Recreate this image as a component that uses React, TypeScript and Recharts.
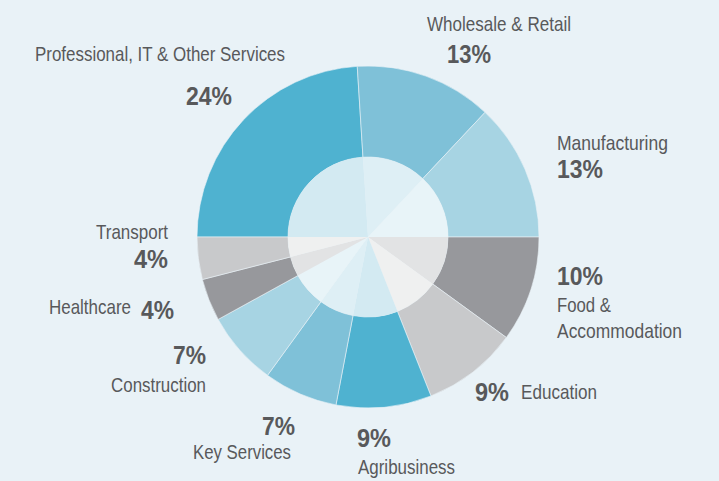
import React from 'react';
import { PieChart, Pie, Cell } from 'recharts';

const sectors = [
  'Professional, IT & Other Services',
  'Wholesale & Retail',
  'Manufacturing',
  'Food & Accommodation',
  'Education',
  'Agribusiness',
  'Key Services',
  'Construction',
  'Healthcare',
  'Transport',
];
const shares = [24, 13, 13, 10, 9, 9, 7, 7, 4, 4];

const outerColors = [
  '#4FB2D0', '#7FC1D8', '#A7D4E3', '#97989C', '#C8C9CB',
  '#4FB2D0', '#7FC1D8', '#A7D4E3', '#97989C', '#C8C9CB',
];
const innerColors = [
  '#D3EAF2', '#DEEFF5', '#E8F4F8', '#E2E3E4', '#EFF0F0',
  '#D3EAF2', '#DEEFF5', '#E8F4F8', '#E2E3E4', '#EFF0F0',
];

const data = sectors.map((name, i) => ({ name, value: shares[i] }));

const FONT = "'Liberation Sans', Arial, sans-serif";
const TEXT = '#58595B';

// x/y: left edge + baseline; w: rendered width (condensed face)
type Line = { t: string; x: number; y: number; w: number; bold?: boolean };

// label placement per slice; "%" marks where the share goes
const labelLayout: Record<string, Line[]> = {
  'Professional, IT & Other Services': [
    { t: 'Professional, IT & Other Services', x: 35, y: 61, w: 250 },
    { t: '%', x: 186, y: 105, w: 46, bold: true },
  ],
  'Wholesale & Retail': [
    { t: 'Wholesale & Retail', x: 427, y: 31, w: 144 },
    { t: '%', x: 447, y: 63, w: 44, bold: true },
  ],
  Manufacturing: [
    { t: 'Manufacturing', x: 557, y: 150, w: 111 },
    { t: '%', x: 557, y: 178, w: 46, bold: true },
  ],
  'Food & Accommodation': [
    { t: '%', x: 557, y: 285, w: 46, bold: true },
    { t: 'Food &', x: 557, y: 312, w: 54 },
    { t: 'Accommodation', x: 557, y: 338, w: 125 },
  ],
  Education: [
    { t: '%', x: 475, y: 401, w: 34, bold: true },
    { t: 'Education', x: 521, y: 399, w: 76 },
  ],
  Agribusiness: [
    { t: '%', x: 357, y: 447, w: 34, bold: true },
    { t: 'Agribusiness', x: 358, y: 474, w: 97 },
  ],
  'Key Services': [
    { t: '%', x: 262, y: 435, w: 33, bold: true },
    { t: 'Key Services', x: 193, y: 459, w: 98 },
  ],
  Construction: [
    { t: '%', x: 173, y: 364, w: 33, bold: true },
    { t: 'Construction', x: 111, y: 392, w: 95 },
  ],
  Healthcare: [
    { t: 'Healthcare', x: 49, y: 314, w: 82 },
    { t: '%', x: 141, y: 319, w: 33, bold: true },
  ],
  Transport: [
    { t: 'Transport', x: 96, y: 239, w: 72 },
    { t: '%', x: 134, y: 268, w: 34, bold: true },
  ],
};

function renderLabel(props: any) {
  const lines = labelLayout[props.name] || [];
  return (
    <g key={props.name}>
      {lines.map((l, i) => (
        <text
          key={i}
          x={l.x}
          y={l.y}
          textAnchor="start"
          textLength={l.w}
          lengthAdjust="spacingAndGlyphs"
          fill={TEXT}
          fontFamily={FONT}
          fontSize={l.bold ? 26 : 21}
          fontWeight={l.bold ? 700 : 400}
        >
          {l.t === '%' ? `${props.value}%` : l.t}
        </text>
      ))}
    </g>
  );
}

export default function App() {
  return (
    <div style={{ position: 'absolute', left: 0, top: 0, width: 719, height: 481, background: '#E9F2F7' }}>
      <PieChart width={719} height={481} margin={{ top: 0, right: 0, bottom: 0, left: 0 }}>
        <Pie
          data={data}
          dataKey="value"
          nameKey="name"
          cx={368}
          cy={237}
          innerRadius={80}
          outerRadius={171}
          startAngle={180}
          endAngle={-180}
          stroke="#E9F2F7"
          strokeWidth={0.6}
          label={renderLabel}
          labelLine={false}
          isAnimationActive={false}
        >
          {data.map((d, i) => (
            <Cell key={d.name} fill={outerColors[i]} />
          ))}
        </Pie>
        <Pie
          data={data}
          dataKey="value"
          nameKey="name"
          cx={368}
          cy={237}
          innerRadius={0}
          outerRadius={80}
          startAngle={180}
          endAngle={-180}
          stroke="none"
          isAnimationActive={false}
        >
          {data.map((d, i) => (
            <Cell key={d.name} fill={innerColors[i]} />
          ))}
        </Pie>
      </PieChart>
    </div>
  );
}
